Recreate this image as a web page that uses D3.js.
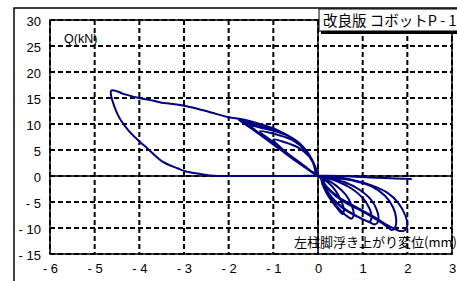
<!DOCTYPE html>
<html>
<head>
<meta charset="utf-8">
<script src="https://cdn.jsdelivr.net/npm/d3@7"></script>
<style>
  body { margin: 0; background: #fff; }
  svg { display: block; }
  text { font-family: "Liberation Sans", Arial, "Noto Sans CJK JP", sans-serif; fill: #000; }
  .jp { font-family: "Noto Sans CJK JP", "Liberation Sans", sans-serif; }
</style>
</head>
<body>
<div id="chart"></div>
<script>
// tick values / labels
var xTicks = [-6, -5, -4, -3, -2, -1, 0, 1, 2, 3];
var xTickLabels = ["- 6", "- 5", "- 4", "- 3", "- 2", "- 1", "0", "1", "2", "3"];
var yTicks = [30, 25, 20, 15, 10, 5, 0, -5, -10, -15];
var yTickLabels = ["30", "25", "20", "15", "10", "5", "0", "- 5", "- 10", "- 15"];

var titleText = "改良版 コボットP - 1";
var yLabel = "Q(kN)";
var xLabel = "左柱脚浮き上がり変位(mm)";

// hysteresis record, [displacement mm, Q kN]
var cycle1 = [[0,0],[-0.05,1.5],[-0.2,3.8],[-0.45,5.5],[-0.75,6.5],[-1.0,7.0],
  [-0.8,5.2],[-0.55,3.5],[-0.3,1.9],[-0.1,0.6],[0.05,-0.2],
  [0.1,-1.6],[0.2,-3.4],[0.32,-5.0],[0.45,-6.4],[0.55,-7.3],
  [0.58,-6.6],[0.52,-4.8],[0.4,-2.9],[0.22,-1.2],[0,0]];
var cycle2 = [[-0.06,1.8],[-0.25,4.6],[-0.55,6.8],[-0.9,7.9],[-1.3,8.6],
  [-1.05,6.8],[-0.75,4.8],[-0.45,2.8],[-0.2,1.2],[0.05,-0.3],
  [0.12,-1.8],[0.25,-3.8],[0.4,-5.6],[0.55,-7.0],[0.68,-7.9],[0.75,-8.2],
  [0.8,-7.4],[0.75,-5.6],[0.62,-3.6],[0.4,-1.8],[0.15,-0.5],[0,0]];
var cycle3 = [[-0.08,2.2],[-0.3,5.3],[-0.6,7.4],[-1.0,8.7],[-1.3,9.3],[-1.55,9.8],
  [-1.3,8.1],[-1.0,6.1],[-0.7,4.2],[-0.4,2.3],[-0.15,0.8],[0.05,-0.3],
  [0.15,-2.0],[0.3,-4.0],[0.5,-5.8],[0.7,-7.0],[0.9,-7.9],[1.05,-8.5],[1.15,-8.8],
  [1.2,-8.0],[1.15,-6.2],[1.0,-4.2],[0.75,-2.4],[0.45,-1.1],[0.15,-0.3],[0,0]];
var cycle4 = [[-0.1,2.5],[-0.35,5.8],[-0.7,7.9],[-1.1,9.1],[-1.4,9.8],[-1.65,10.4],
  [-1.4,8.8],[-1.1,6.8],[-0.75,4.6],[-0.45,2.6],[-0.18,1.0],[0.05,-0.3],
  [0.15,-2.1],[0.32,-4.2],[0.55,-6.0],[0.78,-7.3],[1.0,-8.3],[1.18,-9.0],[1.28,-9.3],
  [1.35,-8.6],[1.32,-6.6],[1.18,-4.5],[0.92,-2.6],[0.6,-1.2],[0.25,-0.4],[0,0]];
var cycle5 = [[-0.1,2.6],[-0.4,6.2],[-0.8,8.3],[-1.2,9.5],[-1.5,10.2],[-1.72,10.7],
  [-1.45,9.0],[-1.15,7.1],[-0.8,4.9],[-0.45,2.7],[-0.18,1.0],[0.05,-0.3],
  [0.18,-2.0],[0.4,-3.9],[0.65,-5.3],[0.95,-6.6],[1.2,-7.8],[1.4,-8.9],[1.55,-9.8],[1.65,-10.4],
  [1.72,-10.0],[1.75,-8.2],[1.68,-6.0],[1.5,-3.8],[1.2,-2.0],[0.8,-0.9],[0.35,-0.3],[0,0]];
var cycle6 = [[-0.12,2.7],[-0.45,6.5],[-0.85,8.5],[-1.25,9.7],[-1.55,10.4],[-1.8,11.0],
  [-1.5,9.2],[-1.2,7.3],[-0.85,5.1],[-0.5,2.9],[-0.2,1.1],[0.05,-0.3],
  [0.2,-2.1],[0.45,-4.0],[0.75,-5.5],[1.05,-6.9],[1.3,-8.1],[1.5,-9.2],[1.7,-10.1],[1.85,-10.6],[1.95,-10.4],
  [2.0,-9.4],[1.95,-7.5],[1.8,-5.2],[1.55,-3.2],[1.2,-1.8],[0.8,-0.8],[0.35,-0.2],[0,0]];
var finalRun = [[-0.12,2.7],[-0.45,6.5],[-0.85,8.6],[-1.3,10.0],[-1.7,10.9],[-2.0,11.3],
  [-2.3,12.0],[-2.64,12.8],[-3.0,13.5],[-3.3,13.9],[-3.5,14.1],[-3.7,14.5],[-4.0,15.0],
  [-4.36,15.8],[-4.5,16.3],[-4.63,16.4],[-4.5,12.1],[-4.25,8.8],[-3.98,6.5],[-3.83,5.4],
  [-3.47,2.7],[-3.15,1.5],[-2.93,0.8],[-2.7,0.5],[-2.42,0.1],[-1.5,0.0],[-0.5,0.0],
  [0,0.1],[0.5,0.0],[1.0,-0.2],[1.5,-0.4],[2.1,-0.6]];

var W = 457, H = 281;
var svg = d3.select("#chart").append("svg")
  .attr("width", W).attr("height", H);

var x = d3.scaleLinear().domain([-6, 3]).range([50, 452]);
var y = d3.scaleLinear().domain([-15, 30]).range([254, 20]);

// outer frame (runs off the right and bottom of the picture)
svg.append("rect")
  .attr("x", 14).attr("y", 8).attr("width", 470).attr("height", 300)
  .attr("fill", "#fff").attr("stroke", "#000").attr("stroke-width", 1.5);

// dashed grid
var gridLines = svg.append("g").attr("class", "grid");
gridLines.selectAll(".gv").data(xTicks).enter().append("line").attr("class", "gv")
  .attr("x1", function(d) { return x(d); }).attr("x2", function(d) { return x(d); })
  .attr("y1", y(30)).attr("y2", y(-15))
  .attr("stroke", "#000").attr("stroke-width", 2).attr("stroke-dasharray", "5,3");
gridLines.selectAll(".gh").data(yTicks).enter().append("line").attr("class", "gh")
  .attr("x1", x(-6)).attr("x2", x(3))
  .attr("y1", function(d) { return y(d); }).attr("y2", function(d) { return y(d); })
  .attr("stroke", "#000").attr("stroke-width", 2).attr("stroke-dasharray", "5,3");

// plot area border
svg.append("rect")
  .attr("x", x(-6)).attr("y", y(30))
  .attr("width", x(3) - x(-6)).attr("height", y(-15) - y(30))
  .attr("fill", "none").attr("stroke", "#000").attr("stroke-width", 1.5);

// zero lines
svg.append("line").attr("x1", x(-6)).attr("x2", x(3)).attr("y1", y(0)).attr("y2", y(0))
  .attr("stroke", "#000").attr("stroke-width", 1.5);
svg.append("line").attr("x1", x(0)).attr("x2", x(0)).attr("y1", y(30)).attr("y2", y(-15))
  .attr("stroke", "#000").attr("stroke-width", 1.5);

// axes labels via d3 axes
var yAxis = d3.axisLeft(y).tickValues(yTicks).tickSize(0).tickPadding(0)
  .tickFormat(function(d, i) { return yTickLabels[i]; });
var gy = svg.append("g").attr("transform", "translate(41,1.5)").call(yAxis);
gy.select(".domain").remove();
gy.selectAll("text").attr("font-size", 13).attr("font-family", "Liberation Sans, Arial, sans-serif");

var xAxis = d3.axisBottom(x).tickValues(xTicks).tickSize(0).tickPadding(0)
  .tickFormat(function(d, i) { return xTickLabels[i]; });
var gx = svg.append("g").attr("transform", "translate(0,264)").call(xAxis);
gx.select(".domain").remove();
gx.selectAll("text").attr("font-size", 13).attr("font-family", "Liberation Sans, Arial, sans-serif");

// hysteresis curve
var allPts = [].concat(cycle1, cycle2, cycle3, cycle4, cycle5, cycle6, finalRun);
var line = d3.line()
  .x(function(d) { return x(d[0]); })
  .y(function(d) { return y(d[1]); })
  .curve(d3.curveCatmullRom.alpha(0.5));
svg.append("path").datum(allPts)
  .attr("d", line)
  .attr("fill", "none").attr("stroke", "#000080").attr("stroke-width", 2)
  .attr("stroke-linejoin", "round");

// Q label
svg.append("text").attr("x", 64).attr("y", 43)
  .attr("font-size", 12.5).text(yLabel);

// displacement label
svg.append("text").attr("class", "jp").attr("x", 294).attr("y", 247)
  .attr("font-size", 13).text(xLabel);

// title box
svg.append("rect").attr("x", 321).attr("y", 12).attr("width", 150).attr("height", 22)
  .attr("fill", "#000");
svg.append("rect").attr("x", 319).attr("y", 9).attr("width", 150).attr("height", 22)
  .attr("fill", "#fff").attr("stroke", "#000").attr("stroke-width", 1);
svg.append("text").attr("class", "jp").attr("x", 323).attr("y", 26)
  .attr("font-size", 14.5).text(titleText);
</script>
</body>
</html>
